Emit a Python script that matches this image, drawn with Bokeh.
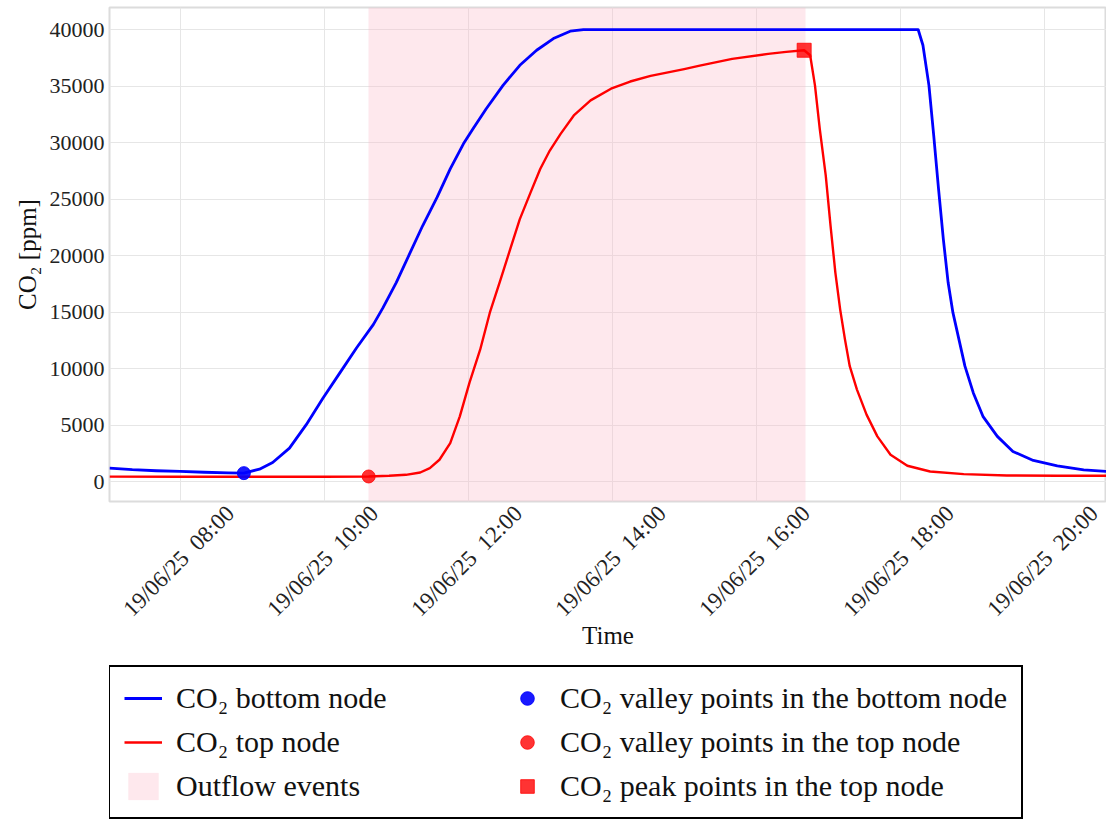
import pandas as pd
from math import pi
from bokeh.plotting import figure
from bokeh.layouts import column
from bokeh.models import (Range1d, FixedTicker, BasicTickFormatter, Legend, LegendItem)
from bokeh.embed import file_html
from bokeh.resources import INLINE

DAY = "2025-06-19 "

# ---- data ----
bottom_time = ["07:01", "07:20", "07:40", "08:00", "08:20", "08:40", "08:53", "09:06",
               "09:17", "09:31", "09:45", "09:59", "10:13", "10:27", "10:41", "10:49",
               "11:00", "11:11", "11:22", "11:34", "11:45", "11:56", "12:04", "12:15",
               "12:29", "12:43", "12:57", "13:11", "13:25", "13:36", "18:15", "18:19",
               "18:24", "18:28", "18:32", "18:36", "18:40", "18:44", "18:49", "18:54",
               "19:01", "19:09", "19:21", "19:34", "19:51", "20:11", "20:33", "20:52"]
bottom_co2 = [1190, 1050, 950, 890, 820, 760, 740, 1095,
              1686, 2959, 5030, 7397, 9615, 11834, 13905, 15385,
              17604, 20118, 22633, 25148, 27663, 29882, 31213, 32988,
              35059, 36834, 38166, 39201, 39852, 40000, 40000, 38610,
              35059, 30621, 25888, 21450, 17604, 14941, 12574, 10207,
              7840, 5769, 3994, 2663, 1864, 1391, 1036, 888]

top_time = ["07:01", "08:00", "09:00", "10:00", "10:37", "10:54", "11:08", "11:20",
            "11:28", "11:36", "11:45", "11:53", "12:01", "12:10", "12:18", "12:27",
            "12:35", "12:43", "12:52", "13:00", "13:08", "13:17", "13:28", "13:42",
            "13:59", "14:15", "14:32", "15:00", "15:13", "15:40", "16:10", "16:25",
            "16:40", "16:45", "16:49", "16:53", "16:58", "17:02", "17:06", "17:10",
            "17:14", "17:18", "17:24", "17:32", "17:41", "17:52", "18:06", "18:25",
            "18:53", "19:29", "20:11", "20:52"]
top_co2 = [430, 425, 420, 420, 444, 503, 592, 799,
           1183, 1923, 3402, 5769, 8728, 11686, 14941, 17899,
           20562, 23225, 25592, 27663, 29290, 30769, 32396, 33728,
           34763, 35400, 35900, 36500, 36800, 37400, 37850, 38020,
           38166, 37722, 35059, 31213, 27071, 22633, 18491, 15237,
           12574, 10207, 8136, 5917, 3994, 2367, 1391, 888,
           651, 533, 503, 503]

bottom_valley_time = ["08:53"]
bottom_valley_co2 = [740]
top_valley_time = ["10:37"]
top_valley_co2 = [444]
top_peak_time = ["16:40"]
top_peak_co2 = [38166]

outflow_start = ["10:37"]
outflow_end = ["16:41"]

x_tick_times = ["08:00", "10:00", "12:00", "14:00", "16:00", "18:00", "20:00"]
y_ticks = [0, 5000, 10000, 15000, 20000, 25000, 30000, 35000, 40000]
x_view = ["07:01", "20:52"]
y_view = [-1770, 41950]

legend_labels = ["CO\u2082 bottom node", "CO\u2082 top node", "Outflow events",
                 "CO\u2082 valley points in the bottom node",
                 "CO\u2082 valley points in the top node",
                 "CO\u2082 peak points in the top node"]


def t(lst):
    return pd.to_datetime([DAY + s for s in lst])


def ms(lst):
    return (t(lst).astype("int64") // 10**6).tolist()


FONT = "Liberation Serif"
W = 1106
MAIN_H, LEG_H = 660, 159
LEFT, TOP, BOTTOM = 109, 7, 159
FRAME_W = W - LEFT

BLUE, RED, PINK = "#0000ff", "#ff0000", "#fbb8c8"
STYLE = dict(
    out=dict(fill_color=PINK, fill_alpha=0.32, line_color=None),
    b=dict(line_color=BLUE, line_width=2.8, line_join="round"),
    t=dict(line_color=RED, line_width=2.4, line_join="round"),
    bv=dict(marker="circle", size=13, fill_color=BLUE, line_color=BLUE, alpha=0.9),
    tv=dict(marker="circle", size=13, fill_color=RED, line_color=RED, alpha=0.8),
    tp=dict(marker="square", size=14, fill_color=RED, line_color=RED, alpha=0.8),
)

x0, x1 = ms(x_view)
p = figure(width=W, height=MAIN_H, x_axis_type="datetime",
           x_range=Range1d(x0, x1), y_range=Range1d(*y_view),
           output_backend="svg", toolbar_location=None,
           min_border_left=LEFT, min_border_right=0, min_border_top=TOP,
           min_border_bottom=BOTTOM)

p.background_fill_color = "white"
p.border_fill_color = "white"
p.outline_line_color = "#dcdcdc"
p.outline_line_width = 2
p.grid.grid_line_color = "#e6e6e6"
p.grid.grid_line_width = 1

p.vstrip(x0=t(outflow_start), x1=t(outflow_end), **STYLE["out"])
p.line(t(bottom_time), bottom_co2, **STYLE["b"])
p.line(t(top_time), top_co2, **STYLE["t"])
p.scatter(t(bottom_valley_time), bottom_valley_co2, **STYLE["bv"])
p.scatter(t(top_valley_time), top_valley_co2, **STYLE["tv"])
p.scatter(t(top_peak_time), top_peak_co2, **STYLE["tp"])

# x ticks: grid at the real tick times; rotated labels centred on them
tick_ms = ms(x_tick_times)
p.xgrid[0].ticker = FixedTicker(ticks=tick_ms)
label_shift_px = 50
shift_ms = label_shift_px * (x1 - x0) / FRAME_W
label_ticks = [v + shift_ms for v in tick_ms]
p.xaxis.ticker = FixedTicker(ticks=label_ticks)
tick_text = [d.strftime("%d/%m/%y") + "\u00a0\u00a0" + d.strftime("%H:%M")
             for d in t(x_tick_times)]
p.xaxis.major_label_overrides = {float(v): s for v, s in zip(label_ticks, tick_text)}

p.yaxis.ticker = FixedTicker(ticks=y_ticks)
p.yaxis.formatter = BasicTickFormatter(use_scientific=False)

for ax in (p.xaxis[0], p.yaxis[0]):
    ax.axis_line_color = None
    ax.major_tick_line_color = None
    ax.minor_tick_line_color = None
    ax.major_tick_out = 0
    ax.major_tick_in = 0
    ax.minor_tick_out = 0
    ax.major_label_text_font = FONT
    ax.major_label_text_color = "#222222"
    ax.axis_label_text_font = FONT
    ax.axis_label_text_font_style = "normal"
    ax.axis_label_text_color = "#111111"
    ax.axis_label_text_font_size = "25px"

p.xaxis.major_label_orientation = pi / 4
p.xaxis.major_label_text_font_size = "23px"
p.yaxis.major_label_text_font_size = "22px"
p.yaxis.major_label_standoff = 5
p.xaxis.major_label_standoff = 8
p.xaxis.axis_label = "Time"
p.yaxis.axis_label = "CO\u2082 [ppm]"
p.xaxis.axis_label_standoff = -11
p.yaxis.axis_label_standoff = 6

# ---- legend strip below the chart (legend keys carry no data) ----
q = figure(width=W, height=LEG_H, x_range=Range1d(0, 1), y_range=Range1d(0, 1),
           output_backend="svg", toolbar_location=None,
           x_axis_location=None, y_axis_location=None,
           min_border_left=0, min_border_right=0, min_border_top=0,
           min_border_bottom=0)
q.outline_line_color = None
q.background_fill_color = "white"
q.border_fill_color = "white"
q.grid.visible = False

NAN = [float("nan")]
k_b = q.line(NAN, NAN, **STYLE["b"])
k_t = q.line(NAN, NAN, **STYLE["t"])
k_out = q.vstrip(x0=NAN, x1=NAN, **STYLE["out"])
k_bv = q.scatter(NAN, NAN, **STYLE["bv"])
k_tv = q.scatter(NAN, NAN, **STYLE["tv"])
k_tp = q.scatter(NAN, NAN, **STYLE["tp"])

legend = Legend(items=[LegendItem(label=lab, renderers=[r]) for lab, r in
                       zip(legend_labels, [k_b, k_t, k_out, k_bv, k_tv, k_tp])],
                nrows=3, location=(-1, 0))
legend.padding = 14
legend.spacing = 10
legend.margin = 0
legend.glyph_width = 38
legend.glyph_height = 34
legend.label_standoff = 14
legend.label_width = 322
legend.label_text_font = FONT
legend.label_text_font_size = "30px"
legend.label_text_color = "#111111"
legend.border_line_color = "black"
legend.border_line_alpha = 1
legend.border_line_width = 2
legend.background_fill_color = "white"
legend.background_fill_alpha = 1
q.add_layout(legend, "center")

open("out.html", "w").write(file_html(column(p, q, spacing=0), INLINE))
